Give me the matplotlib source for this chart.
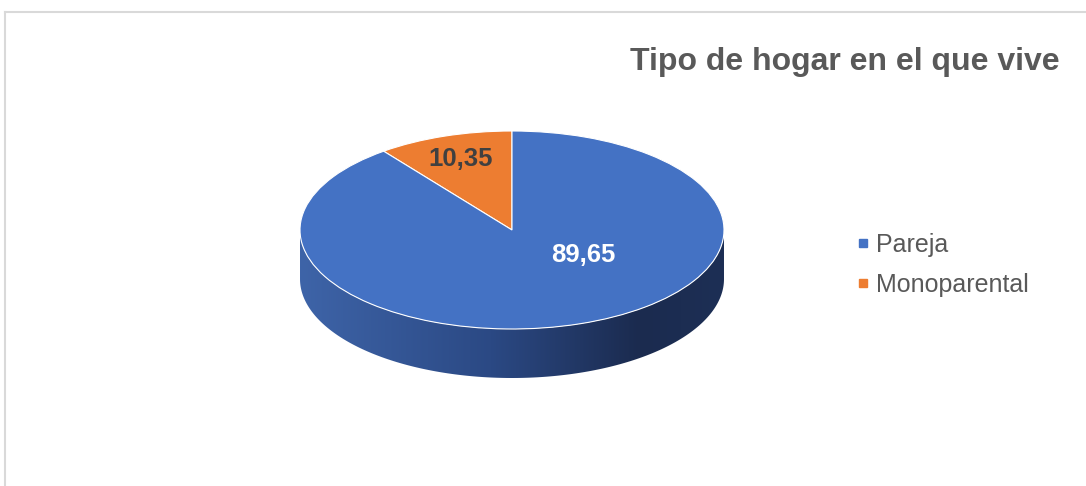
import numpy as np
import matplotlib
matplotlib.use("Agg")
import matplotlib.pyplot as plt
from matplotlib.lines import Line2D
from matplotlib.patches import Polygon
from matplotlib.colors import LinearSegmentedColormap

plt.rcParams['font.family'] = ['Liberation Sans', 'DejaVu Sans']

# data
categories = ["Pareja", "Monoparental"]
values = [89.65, 10.35]
value_labels = ["89,65", "10,35"]
colors = ["#4472C4", "#ED7D31"]
title = "Tipo de hogar en el que vive"

W, H = 1086, 486
fig = plt.figure(figsize=(W / 100, H / 100), dpi=100)

# pie geometry in pixels (ellipse centre and semi axes)
cx, cy, a, b = 512, 230, 212, 99
depth = 49 / b
xl, xr, yb, yt = -1.2, 1.2, -1.7, 1.2
left = (cx + xl * a) / W
bottom = (H - (cy - yb * b)) / H
ax = fig.add_axes([left, bottom, (xr - xl) * a / W, (yt - yb) * b / H])

# orange first, starting at 12 o'clock going counter clockwise
wedges, _ = ax.pie(values[::-1], colors=colors[::-1], startangle=90,
                   counterclock=True,
                   wedgeprops=dict(edgecolor="white", linewidth=0.8))
ax.set_aspect("auto")
ax.axis("off")

# side of the cylinder with a horizontal gradient
t = np.linspace(np.pi, 2 * np.pi, 200)
top = np.column_stack([np.cos(t), np.sin(t)])
bot = np.column_stack([np.cos(t[::-1]), np.sin(t[::-1]) - depth])
side = Polygon(np.vstack([top, bot]), closed=True, facecolor="none",
               edgecolor="none")
ax.add_patch(side)
cmap = LinearSegmentedColormap.from_list(
    "side", [(0, "#3e64a8"), (0.45, "#2b4984"), (0.8, "#1b2b4f"), (1, "#1d2f55")])
grad = np.linspace(0, 1, 256).reshape(1, -1)
im = ax.imshow(grad, cmap=cmap, extent=(-1, 1, -1 - depth - 0.05, 0.05),
               aspect="auto", zorder=0.5, interpolation="bilinear")
im.set_clip_path(side)
ax.set_xlim(xl, xr)
ax.set_ylim(yb, yt)

# value labels
mid = np.deg2rad(90 + values[1] * 3.6 / 2)
ax.text(0.76 * np.cos(mid), 0.76 * np.sin(mid), value_labels[1],
        ha="center", va="center", fontsize=18.5, fontweight="bold",
        color="#404040")
ax.text(0.335, -0.25, value_labels[0], ha="center", va="center",
        fontsize=18.5, fontweight="bold", color="white")

# legend
handles = [Line2D([], [], marker="s", linestyle="none", markersize=6,
                  markerfacecolor=c, markeredgecolor=c) for c in colors]
fig.legend(handles, categories, loc="center left",
           bbox_to_anchor=(842 / W, 1 - 265 / H), frameon=False,
           fontsize=18, labelcolor="#595959", handletextpad=0.15,
           handlelength=0.7, labelspacing=0.62, borderpad=0)

# title
fig.text(1060 / W, 1 - 70 / H, title, ha="right", va="baseline",
         fontsize=23, fontweight="bold", color="#595959")

# chart border (top and left visible)
fig.add_artist(Line2D([5 / W, 1], [1 - 12 / H, 1 - 12 / H],
                      transform=fig.transFigure, color="#d9d9d9", lw=1.5))
fig.add_artist(Line2D([5 / W, 5 / W], [0, 1 - 12 / H],
                      transform=fig.transFigure, color="#d9d9d9", lw=1.5))

fig.savefig("out.png", dpi=100, facecolor="white")
